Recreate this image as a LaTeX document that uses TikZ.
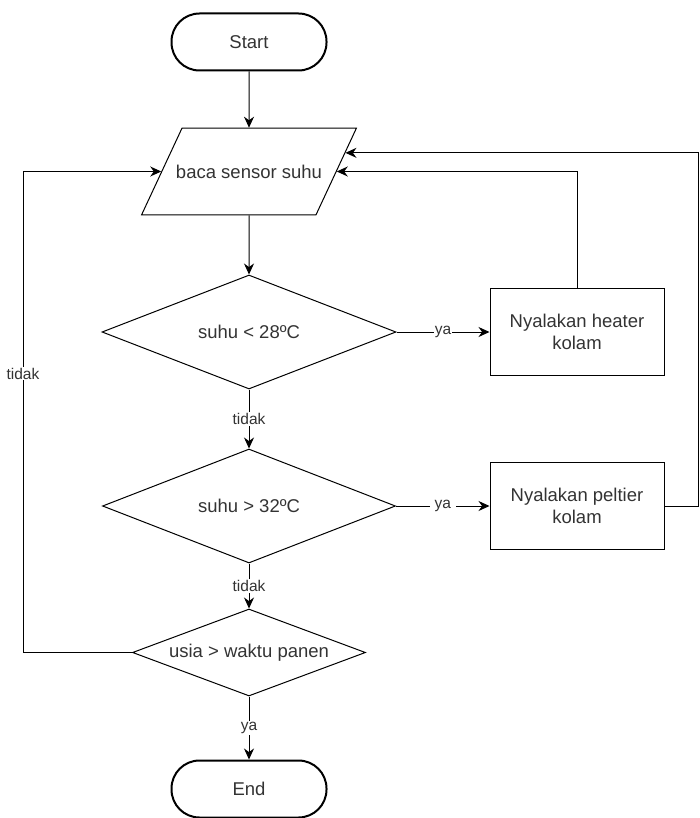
\documentclass[tikz,border=0pt]{standalone}
\usepackage{fontspec}
\setmainfont{Liberation Sans}
\usetikzlibrary{shapes.geometric,arrows.meta,positioning,calc}

\begin{document}
\begin{tikzpicture}[x=1pt,y=-1pt,
    txt/.style={text=black!80,font=\fontsize{18.5}{21.5}\selectfont},
    terminal/.style={txt,draw,line width=2pt,rounded corners=28pt,minimum width=155pt,minimum height=57pt},
    io/.style={txt,draw,line width=1pt,trapezium,trapezium left angle=65,trapezium right angle=115,trapezium stretches body=true,inner ysep=36.5pt,inner xsep=-6pt},
    decision/.style={txt,draw,line width=1pt,diamond,inner sep=0pt},
    process/.style={txt,draw,line width=1pt,align=center,minimum width=174pt,minimum height=87pt},
    lbl/.style={fill=white,text=black!80,font=\fontsize{15.5}{18}\selectfont,inner sep=1pt},
    arr/.style={line width=1pt,-{Stealth[length=11pt,width=10pt]}}
]
    \useasboundingbox (0,0) rectangle (699,818);
    % Main column
    \node[terminal] (start) at (249,42) {Start};
    \node[io] (read) at (249,171.5) {baca sensor suhu};
    \node[decision,shape aspect=2.58,minimum width=294pt,minimum height=114pt] (low) at (249,332) {suhu < 28ºC};
    \node[decision,shape aspect=2.58,minimum width=293pt,minimum height=114pt] (high) at (249,506) {suhu > 32ºC};
    \node[decision,shape aspect=2.68,minimum width=233pt,minimum height=87pt] (age) at (249,652.5) {usia > waktu panen};
    \node[terminal] (stop) at (249,789) {End};
    % Actions
    \node[process] (heater) at (577,332) {Nyalakan heater\\kolam};
    \node[process] (peltier) at (577,506) {Nyalakan peltier\\kolam};
    % Helper points
    \coordinate (rin) at ($(read.top right corner)!0.287!(read.bottom right corner)$);
    \coordinate (edge) at (698,0);
    \coordinate (lft) at (23,0);
    % Flow
    \draw[arr] (start) -- (read);
    \draw[arr] (read) -- (low);
    \draw[arr] (low) -- node[lbl]{tidak} (high);
    \draw[arr] (high) -- node[lbl]{tidak} (age);
    \draw[arr] (age) -- node[lbl]{ya} (stop);
    \draw[arr] (low) -- node[lbl]{ya} (heater);
    \draw[arr] (high) -- node[lbl,inner xsep=5pt]{ya} (peltier);
    % Loops back
    \draw[arr] (heater.north) |- (read.east);
    \draw[arr] (peltier.east) -| (edge |- rin) -- (rin);
    \draw[arr] (age.west) -| node[lbl,pos=0.79]{tidak} (lft |- read.west) -- (read.west);
\end{tikzpicture}
\end{document}
